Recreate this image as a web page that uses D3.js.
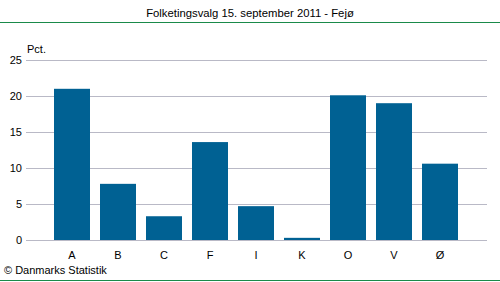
<!doctype html>
<html lang="da">
<head>
  <meta charset="utf-8">
  <title>Folketingsvalg 15. september 2011 - Fejø</title>
  <style type="text/css">
    body{ margin:0; background:#fff; }
    text{
      font-family: Arial, "Liberation Sans", Helvetica, sans-serif;
      font-size:11px;
      fill:#000;
    }
  </style>
</head>
<body>
  <div id="vis"></div>
  <script src="https://cdn.jsdelivr.net/npm/d3@7"></script>
  <script type="text/javascript">

    var title = 'Folketingsvalg 15. september 2011 - Fejø',
      parties = ['A','B','C','F','I','K','O','V','Ø'],
      shares = [21.0, 7.8, 3.3, 13.6, 4.7, 0.3, 20.1, 19.0, 10.6],
      yTicks = [0,5,10,15,20,25],
      unit = 'Pct.',
      source = '© Danmarks Statistik';

    var width = 500, height = 282;
    var plotLeft = 26, plotRight = 487, plotTop = 60, plotBottom = 240;

    var vis = d3.select('#vis').append('svg')
      .attr('width', width).attr('height', height);

    // title + green rules
    vis.append('text')
      .attr('x', 250).attr('y', 17)
      .attr('text-anchor', 'middle')
      .style('font-size', '11.3px')
      .text(title);

    vis.append('line')
      .attr('x1', 0).attr('x2', width)
      .attr('y1', 22.5).attr('y2', 22.5)
      .style('stroke', '#1a8a4a');

    vis.append('line')
      .attr('x1', 0).attr('x2', width)
      .attr('y1', 280.5).attr('y2', 280.5)
      .style('stroke', '#1a8a4a');

    var y = d3.scaleLinear().domain([0,25]).range([plotBottom, plotTop]);
    var x = d3.scaleBand().domain(parties).range([49, 463])
      .paddingInner(10/46).paddingOuter(5/46);

    // grid
    vis.selectAll('line.grid').data(yTicks).enter().append('line')
      .attr('class','grid')
      .attr('x1', plotLeft).attr('x2', plotRight)
      .attr('y1', function(d){ return Math.round(y(d)) + 0.5; })
      .attr('y2', function(d){ return Math.round(y(d)) + 0.5; })
      .style('stroke', '#b9b9c6');

    vis.selectAll('text.ytick').data(yTicks).enter().append('text')
      .attr('class','ytick')
      .attr('x', 22)
      .attr('y', function(d){ return y(d) + 4; })
      .attr('text-anchor', 'end')
      .text(function(d){ return d; });

    vis.append('text')
      .attr('x', 27).attr('y', 53)
      .text(unit);

    // bars
    vis.selectAll('rect.bar').data(shares).enter().append('rect')
      .attr('class','bar')
      .attr('x', function(d,i){ return x(parties[i]); })
      .attr('width', x.bandwidth())
      .attr('y', function(d){ return y(d); })
      .attr('height', function(d){ return plotBottom - y(d); })
      .style('fill', '#006193');

    vis.selectAll('text.xtick').data(parties).enter().append('text')
      .attr('class','xtick')
      .attr('x', function(d){ return x(d) + x.bandwidth()/2; })
      .attr('y', 259)
      .attr('text-anchor', 'middle')
      .text(function(d){ return d; });

    vis.append('text')
      .attr('x', 4).attr('y', 274)
      .text(source);

  </script>
</body>
</html>
